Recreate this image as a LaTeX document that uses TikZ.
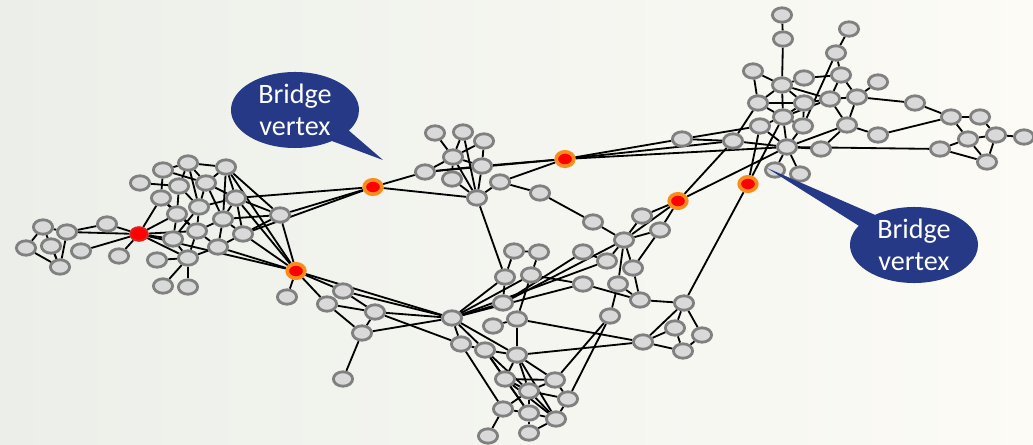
\documentclass[tikz,border=0pt]{standalone}
\usepackage{fontspec}
\setmainfont{Carlito}
\usetikzlibrary{shapes.geometric,shapes.callouts}
\definecolor{nodefill}{RGB}{217,217,217}
\definecolor{nodeline}{RGB}{128,128,128}
\definecolor{ringorange}{RGB}{250,140,28}
\definecolor{bubbleblue}{RGB}{38,57,134}
\definecolor{bgleft}{RGB}{236,239,233}
\definecolor{bgright}{RGB}{252,251,246}
\pgfdeclarelayer{back}
\pgfdeclarelayer{edges}
\pgfsetlayers{back,edges,main}

\begin{document}
\begin{tikzpicture}[
  x=0.025cm,y=-0.025cm,
  vertex/.style={ellipse,draw=nodeline,fill=nodefill,line width=2pt,
                 minimum width=.48cm,minimum height=.36cm,inner sep=0pt},
  bridge/.style={ellipse,draw=ringorange,fill=red,line width=2.6pt,
                 minimum width=.44cm,minimum height=.36cm,inner sep=0pt},
  hub/.style={ellipse,draw=red!75!gray,fill=red,line width=1.4pt,
              minimum width=.44cm,minimum height=.34cm,inner sep=0pt},
  link/.style={draw=black,line width=1.3pt},
  bubble/.style={ellipse callout,fill=bubbleblue,text=white,
                 minimum width=3.2cm,minimum height=1.9cm,inner sep=0pt,
                 callout pointer arc=22,align=center,
                 font=\fontsize{20}{23}\selectfont}
]
\useasboundingbox (0,0) rectangle (1033,445);
\begin{pgfonlayer}{back}
  \fill[left color=bgleft,right color=bgright] (0,0) rectangle (1033,445);
\end{pgfonlayer}

% Plain vertices.
\foreach \n/\x/\y in {
  l1/43/227, l2/67/232, l3/26/248, l4/51/246, l5/81/251, l6/60/267,
  l7/107/224, l8/119/256,
  a1/188/163, a2/163/170, a3/226/167, a4/140/183, a5/179/186, a6/206/183,
  a7/161/198, a8/236/198, a9/199/207, a10/177/214, a11/223/219,
  a12/197/231, a13/243/234, a14/173/239, a15/218/247, a16/157/260,
  a17/188/258, a18/163/286, a19/188/287, a20/280/215,
  p1/287/297, g1/343/291, g2/327/304, g3/375/312, g4/362/333, g5/343/379,
  c1/435/133, c2/463/132, c3/484/141, c4/453/157, c5/482/166, c6/425/172,
  c7/452/179, c8/500/182, c9/477/198, c10/540/193,
  d1/514/251, d2/539/252, d3/583/252, d4/505/277, d5/531/275, d6/583/284,
  d7/503/303, d8/452/318, d9/517/319, d10/493/326, d11/461/344,
  d12/485/350, d13/517/355, d14/505/379, d15/555/380, d16/529/391,
  d17/568/399, d18/503/409, d19/529/413, d20/556/419, d21/488/436,
  d22/529/433,
  m1/593/222, m2/642/216, m3/660/230, m4/624/240, m5/607/261, m6/633/268,
  m7/618/284, m8/640/300, m9/684/303, m10/610/316, m11/675/328,
  m12/702/335, m13/643/342, m14/683/351,
  e1/682/139,
  r1/782/15, r2/783/39, r3/849/29, r4/836/53, r5/753/71, r6/804/78,
  r7/841/75, r8/878/82, r9/782/85, r10/758/103, r11/804/103, r12/830/99,
  r13/857/97, r14/915/103, r15/783/117, r16/760/126, r17/803/126,
  r18/847/125, r19/733/141, r20/787/147, r21/821/149, r22/878/135,
  r23/951/117, r24/980/117, r25/968/139, r26/996/135, r27/1024/137,
  r28/940/149, r29/987/162, r30/775/170, r31/800/174}
  \node[vertex] (\n) at (\x,\y) {};

% Cut vertices.
\node[hub] (b0) at (139,234) {};
\node[bridge] (o1) at (373,187) {};
\node[bridge] (o2) at (296,271) {};
\node[bridge] (o3) at (565,159) {};
\node[bridge] (o4) at (678,201) {};
\node[bridge] (o5) at (748,184) {};

\begin{pgfonlayer}{edges}
\foreach \u/\v in {
  l1/l2, l1/l3, l1/l6, l3/l6, l2/l6, l4/l6, l2/l7, l2/b0, l5/b0, l7/b0,
  l8/b0,
  b0/a7, b0/a10, b0/a14, b0/a17, b0/a12, b0/o2,
  a2/a1, a1/a3, a2/a7, a1/a5, a1/a6, a1/a9, a2/a6, a4/a5, a3/a6, a3/a8,
  a3/a11, a3/a20, a3/o2, a5/a9, a5/a10, a6/a9, a6/a8, a6/a11, a7/a10,
  a7/a12, a8/a9, a8/a11, a8/a13, a8/a20, a8/o1, a8/o2, a9/a12, a9/a14,
  a10/a14, a10/a12, a11/a13, a11/a12, a11/a15, a12/a15, a12/a17,
  a13/a20, a13/o1, a13/o2, a14/a17, a15/a17, a15/o2, a15/a13, a16/a17,
  a17/a18, a17/a19, a20/o1, a20/o2, a20/a11,
  o2/p1, o2/g1, o2/g2, o2/d8, g1/g3, g1/d8, g2/g3, g2/g4, g3/g4, g3/d8,
  g3/d11, g4/d8, g4/g5,
  o1/c6, o1/c9, c1/c4, c2/c4, c2/c9, c3/c4, c3/c5, c4/c5, c4/c6, c4/c9,
  c5/c9, c6/c5, c7/c9, c7/c4, c8/c9, c8/c10, c9/d4, c10/m1,
  o3/c5, o3/c6, o3/c8, o3/e1, o3/r19, o3/r20,
  e1/r19, e1/r16,
  r1/r2, r2/r9, r3/r4, r4/r7, r4/r17, r5/r9, r5/r10, r6/r9, r6/r7,
  r7/r12, r7/r13, r8/r13, r9/r10, r9/r11, r9/r12, r9/r15, r10/r11,
  r10/r15, r10/r19, r11/r12, r11/r15, r11/r17, r12/r13, r12/r15,
  r12/r18, r13/r14, r13/r18, r14/r23, r15/r17, r15/r20, r15/r16,
  r16/r20, r17/r20, r18/r22, r18/r21, r18/r20, r19/r20, r20/r21,
  r20/r30, r20/r31, r20/r28, r22/r23, r23/r24, r23/r25, r24/r26,
  r25/r26, r25/r28, r26/r27, r28/r29, r29/r26, r25/r29,
  o5/r16, o5/r15, o5/m9,
  o4/r19, o4/r20, o4/m2, o4/m3, o4/m4,
  m1/m4, m2/m4, m3/m4, m3/m6, m4/m5, m4/m6, m4/m7, m5/d3, m6/m8, m7/m8,
  m7/m10, m8/m9, m9/m11, m9/m12, m9/m13, m11/m13, m11/m14, m12/m14,
  m13/m14, m13/d13, m13/d9,
  d1/d2, d1/d4, d2/d5, d4/d7, d4/d8, d5/d6, d5/d8, d6/m8, d6/d8, d3/d7,
  d7/d8, d7/m4, d8/m5, d9/d10, d9/d13, d9/d5, d8/d11, d8/d12, d8/d13,
  d11/d18, d11/d12, d12/d13, d12/d14, d12/d16, d13/d14, d13/d15,
  d13/d16, d14/d15, d14/d16, d14/d19, d14/d20, d15/d16, d15/d17,
  d15/m10, d16/d17, d16/d18, d16/d19, d16/d20, d17/d20, d17/m10,
  d18/d19, d18/d21, d19/d20, d19/d22, d20/d22, d12/d19, d13/d20}
  \draw[link] (\u) -- (\v);
\end{pgfonlayer}

% Callouts.
\node[bubble,callout absolute pointer={(383,160)}] (callL) at (295,110)
  {Bridge\\vertex};
\node[bubble,callout absolute pointer={(767,168)}] (callR) at (914,245)
  {Bridge\\vertex};

\end{tikzpicture}
\end{document}
